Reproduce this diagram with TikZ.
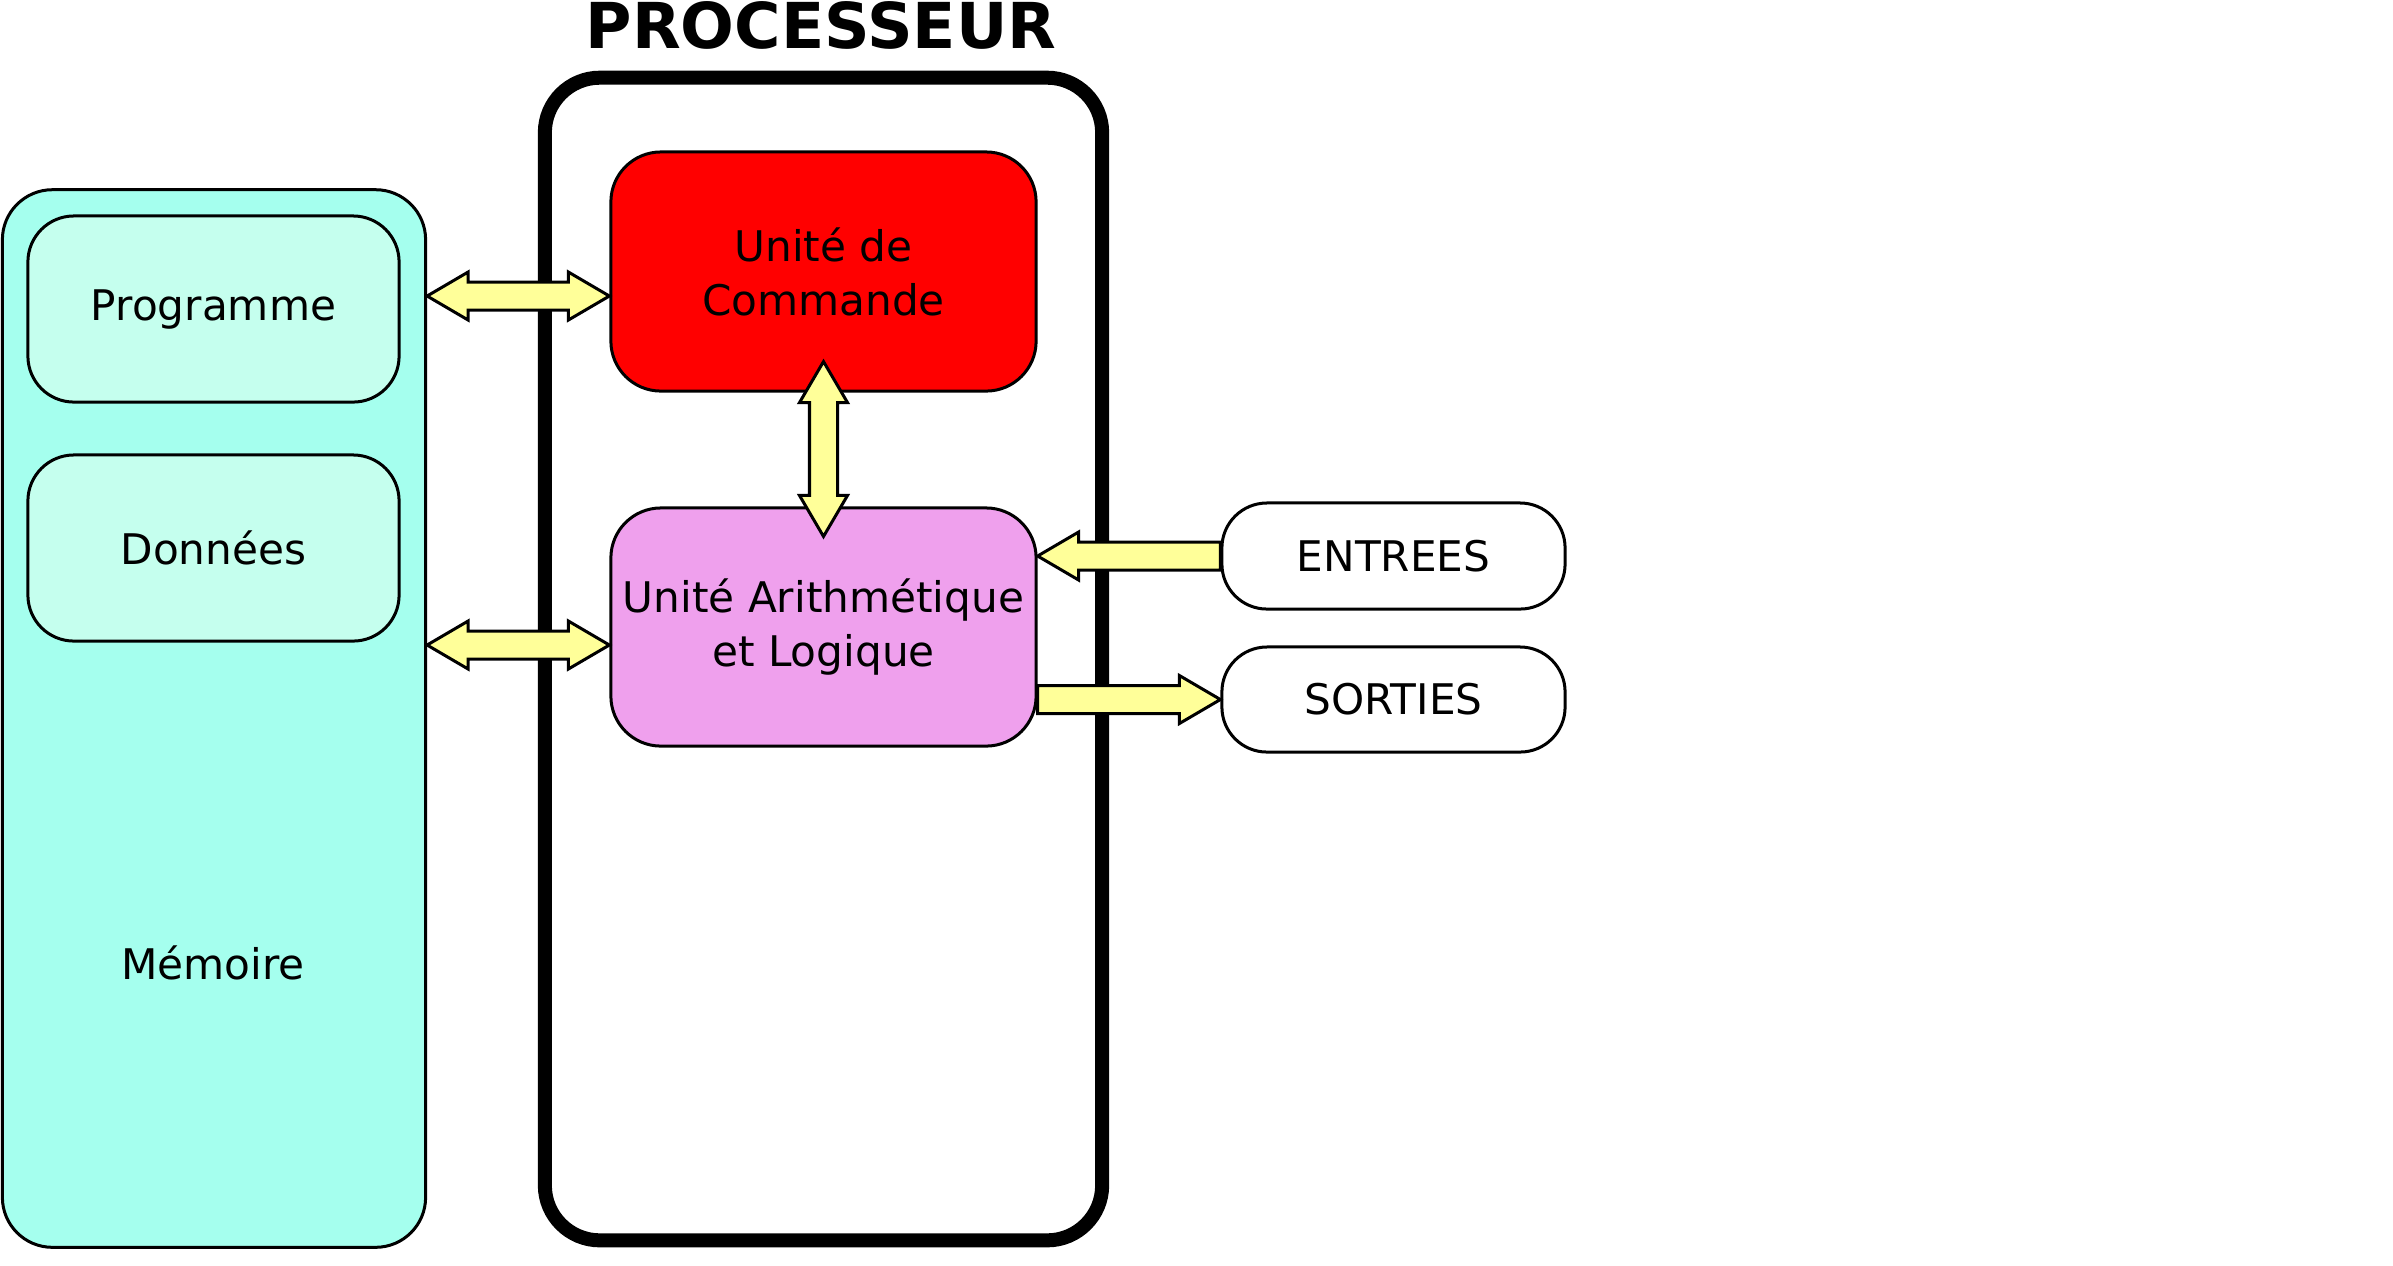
\documentclass[tikz,border=0pt]{standalone}
\usepackage{fontspec}
\setmainfont{DejaVu Sans}
\usetikzlibrary{calc}

\definecolor{memcyan}{RGB}{165,255,238}
\definecolor{zonecyan}{RGB}{197,255,238}
\definecolor{alumauve}{RGB}{239,160,237}
\definecolor{busyellow}{RGB}{255,255,153}

% fat bus arrows: head length, head half width, shaft half width
\newcommand{\busHead}{0.41cm}
\newcommand{\busHalf}{0.24cm}
\newcommand{\busShaft}{0.14cm}

\tikzset{
  bloc/.style={draw, line width=0.03cm, inner sep=0pt, align=center,
    font=\fontsize{12}{15.3}\selectfont},
  busboth/.style={draw, line width=0.03cm, fill=busyellow, line join=miter, to path={
    -- ($(\tikztostart)!\busHead!(\tikztotarget)!\busHalf!90:(\tikztotarget)$)
    -- ($(\tikztostart)!\busHead!(\tikztotarget)!\busShaft!90:(\tikztotarget)$)
    -- ($(\tikztotarget)!\busHead!(\tikztostart)!\busShaft!-90:(\tikztostart)$)
    -- ($(\tikztotarget)!\busHead!(\tikztostart)!\busHalf!-90:(\tikztostart)$)
    -- (\tikztotarget)
    -- ($(\tikztotarget)!\busHead!(\tikztostart)!\busHalf!90:(\tikztostart)$)
    -- ($(\tikztotarget)!\busHead!(\tikztostart)!\busShaft!90:(\tikztostart)$)
    -- ($(\tikztostart)!\busHead!(\tikztotarget)!\busShaft!-90:(\tikztotarget)$)
    -- ($(\tikztostart)!\busHead!(\tikztotarget)!\busHalf!-90:(\tikztotarget)$)
    -- cycle}},
  busone/.style={draw, line width=0.03cm, fill=busyellow, line join=miter, to path={
    -- ($(\tikztostart)!\busShaft!90:(\tikztotarget)$)
    -- ($(\tikztotarget)!\busHead!(\tikztostart)!\busShaft!-90:(\tikztostart)$)
    -- ($(\tikztotarget)!\busHead!(\tikztostart)!\busHalf!-90:(\tikztostart)$)
    -- (\tikztotarget)
    -- ($(\tikztotarget)!\busHead!(\tikztostart)!\busHalf!90:(\tikztostart)$)
    -- ($(\tikztotarget)!\busHead!(\tikztostart)!\busShaft!90:(\tikztostart)$)
    -- ($(\tikztostart)!\busShaft!-90:(\tikztotarget)$)
    -- cycle}}
}

\begin{document}
\begin{tikzpicture}[x=0.01cm, y=-0.01cm]
    \useasboundingbox (0,0) rectangle (2393,1265);

    % memoire
    \node[bloc, fill=memcyan, minimum width=4.23cm, minimum height=10.57cm,
          rounded corners=0.5cm] (mem) at (214,718.5) {};
    \node[bloc, fill=zonecyan, minimum width=3.71cm, minimum height=1.86cm,
          rounded corners=0.46cm] (prog) at (213.5,309) {Programme};
    \node[bloc, fill=zonecyan, minimum width=3.71cm, minimum height=1.86cm,
          rounded corners=0.46cm] (don) at (213.5,548) {Données};
    \node[bloc, draw=none] (memlabel) at (213,963) {Mémoire};

    % processeur
    \node[draw, line width=0.14cm, minimum width=5.57cm, minimum height=11.62cm,
          rounded corners=0.55cm] (proc) at (823.5,659) {};
    \node[font=\fontsize{18}{21}\selectfont\bfseries] (title) at (821,25) {PROCESSEUR};
    \node[bloc, fill=red, minimum width=4.25cm, minimum height=2.39cm,
          rounded corners=0.5cm] (uc) at (823.5,271.5) {Unité de\\Commande};
    \node[bloc, fill=alumauve, minimum width=4.25cm, minimum height=2.38cm,
          rounded corners=0.5cm] (alu) at (823.5,627) {Unité Arithmétique\\et Logique};

    % entrees / sorties
    \node[bloc, fill=white, minimum width=3.43cm, minimum height=1.06cm,
          rounded corners=0.45cm] (ent) at (1393.5,556) {ENTREES};
    \node[bloc, fill=white, minimum width=3.43cm, minimum height=1.05cm,
          rounded corners=0.45cm] (sor) at (1393.5,699.5) {SORTIES};

    % bus
    \coordinate (ucin) at ([yshift=-0.245cm]uc.west);
    \coordinate (memup) at (mem.east |- ucin);
    \coordinate (aluin) at ([yshift=-0.18cm]alu.west);
    \coordinate (memdown) at (mem.east |- aluin);
    \coordinate (ucdown) at ([yshift=0.31cm]uc.south);
    \coordinate (alutop) at ([yshift=-0.3cm]alu.north);
    \coordinate (aluent) at (alu.east |- ent.west);
    \coordinate (alusor) at (alu.east |- sor.west);

    \draw[busboth] (memup) to (ucin);
    \draw[busboth] (memdown) to (aluin);
    \draw[busboth] (ucdown) to (alutop);
    \draw[busone] (ent.west) to (aluent);
    \draw[busone] (alusor) to (sor.west);
\end{tikzpicture}
\end{document}
